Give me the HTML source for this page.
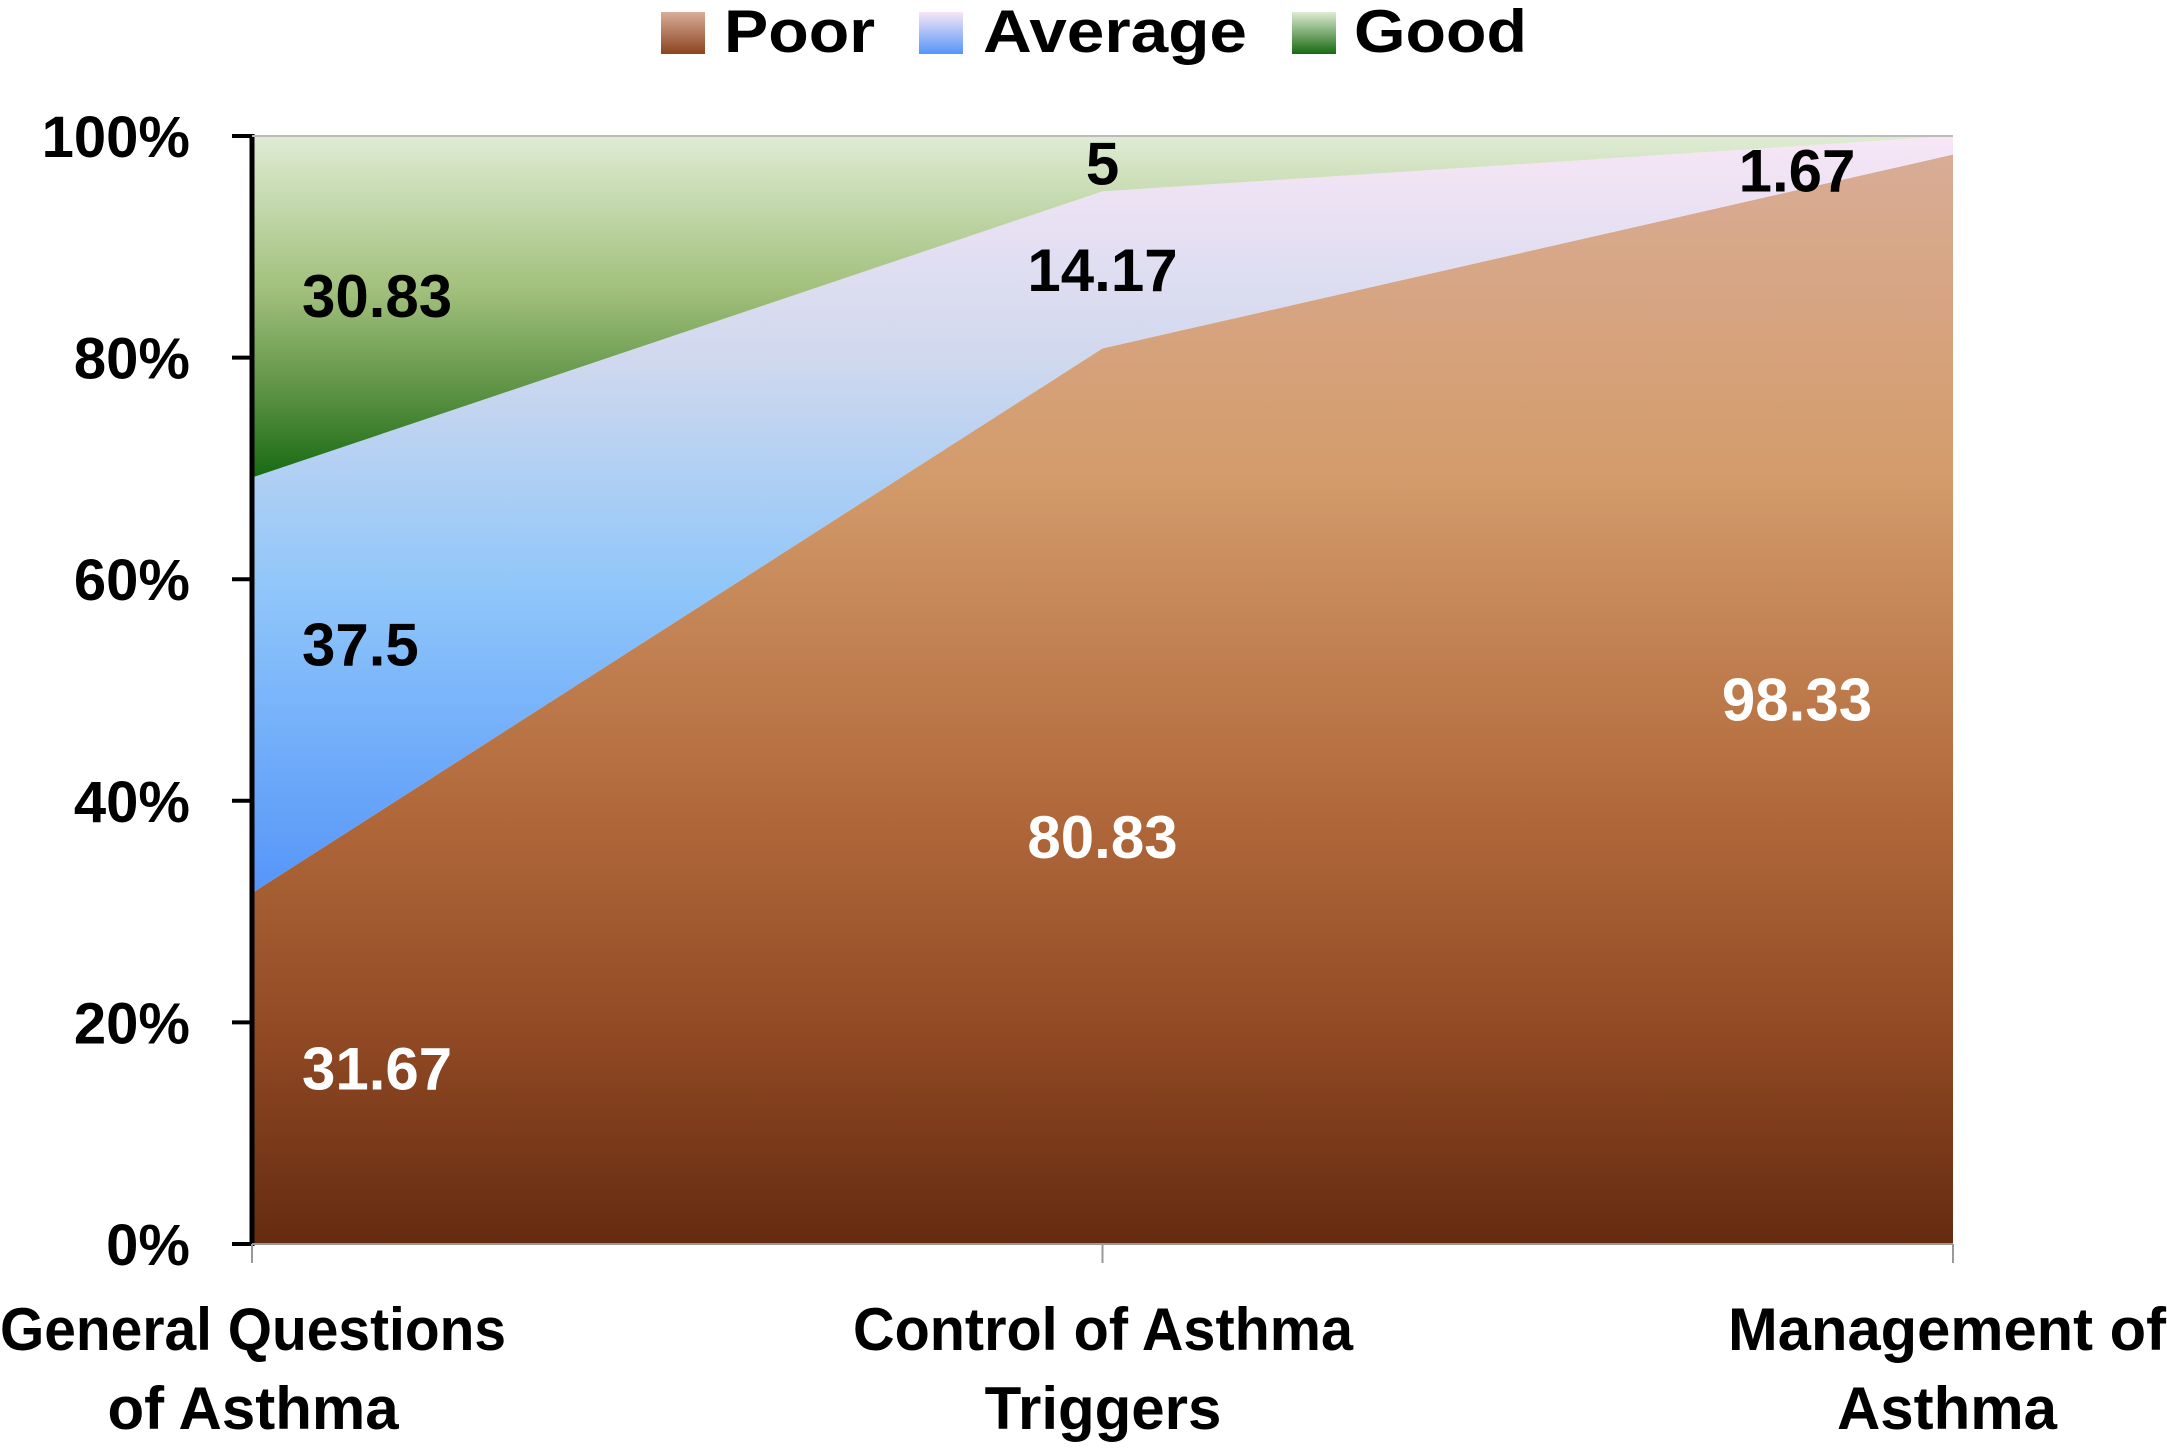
<!DOCTYPE html>
<html><head><meta charset="utf-8"><style>
body{margin:0;background:#fff}
svg text{font-family:"Liberation Sans",sans-serif;font-weight:bold}
</style></head><body>
<svg id="chart" width="2167" height="1443" viewBox="0 0 2167 1443" xmlns="http://www.w3.org/2000/svg">
<defs>
<linearGradient id="gPoor" gradientUnits="userSpaceOnUse" x1="0" y1="136" x2="0" y2="1244">
<stop offset="0" stop-color="#d9ad98"/><stop offset="0.3" stop-color="#d49c6c"/><stop offset="0.6" stop-color="#b26a3c"/><stop offset="0.8" stop-color="#934b25"/><stop offset="1" stop-color="#652b10"/></linearGradient>
<linearGradient id="gAvg" gradientUnits="userSpaceOnUse" x1="0" y1="136" x2="0" y2="895">
<stop offset="0" stop-color="#f7e6f6"/><stop offset="0.3" stop-color="#cfd8ee"/><stop offset="0.6" stop-color="#8fc6fa"/><stop offset="1" stop-color="#5595f9"/></linearGradient>
<linearGradient id="gGood" gradientUnits="userSpaceOnUse" x1="0" y1="136" x2="0" y2="478">
<stop offset="0" stop-color="#dfecd4"/><stop offset="0.45" stop-color="#a2c07c"/><stop offset="0.75" stop-color="#5c9244"/><stop offset="1" stop-color="#176a12"/></linearGradient>
<linearGradient id="lPoor" x1="0" y1="0" x2="0" y2="1"><stop offset="0" stop-color="#d9ad98"/><stop offset="1" stop-color="#8a4420"/></linearGradient>
<linearGradient id="lAvg" x1="0" y1="0" x2="0" y2="1"><stop offset="0" stop-color="#f7e6f6"/><stop offset="1" stop-color="#5595f9"/></linearGradient>
<linearGradient id="lGood" x1="0" y1="0" x2="0" y2="1"><stop offset="0" stop-color="#dfecd4"/><stop offset="1" stop-color="#176a12"/></linearGradient>
</defs>
<g id="legend">
<rect x="661" y="12" width="44" height="42" fill="url(#lPoor)"/>
<text x="724" y="52" font-size="60" textLength="151" lengthAdjust="spacingAndGlyphs">Poor</text>
<rect x="919" y="12" width="44" height="42" fill="url(#lAvg)"/>
<text x="983" y="52" font-size="60" textLength="264" lengthAdjust="spacingAndGlyphs">Average</text>
<rect x="1292" y="12" width="44" height="42" fill="url(#lGood)"/>
<text x="1354" y="52" font-size="60" textLength="173" lengthAdjust="spacingAndGlyphs">Good</text>
</g>
<g id="areas"></g>
<g id="axes"></g>
<g id="labels"></g>
</svg>
<script>
const categories = ["General Questions|of Asthma", "Control of Asthma|Triggers", "Management of|Asthma"];
const poor = [31.67, 80.83, 98.33];
const average = [37.5, 14.17, 1.67];
const good = [30.83, 5, 0];
const yTicks = [0, 20, 40, 60, 80, 100];

const NS = "http://www.w3.org/2000/svg";
const X0 = 252, X1 = 1953, Y0 = 1244, Y1 = 136;
const xS = i => X0 + (X1 - X0) * i / (categories.length - 1);
const yS = v => Y0 - (Y0 - Y1) * v / 100;
function mk(tag, attrs, parent){const e=document.createElementNS(NS,tag);for(const k in attrs)e.setAttribute(k,attrs[k]);parent.appendChild(e);return e;}
const areas = document.getElementById('areas'), axes = document.getElementById('axes'), labels = document.getElementById('labels');

const series = [
 {vals: poor, fill: "url(#gPoor)", name: "area-poor"},
 {vals: average, fill: "url(#gAvg)", name: "area-average"},
 {vals: good, fill: "url(#gGood)", name: "area-good"}
];
let base = categories.map(() => 0);
const bands = [];
series.forEach(s => {
  const top = base.map((b, i) => b + s.vals[i]);
  let d = "";
  top.forEach((t, i) => d += (i ? "L" : "M") + xS(i) + "," + yS(t));
  for (let i = base.length - 1; i >= 0; i--) d += "L" + xS(i) + "," + yS(base[i]);
  const p = mk('path', {d: d + "Z", fill: s.fill}, areas);
  
  
  bands.push({lo: base.slice(), hi: top});
  base = top;
});

const yl = mk('line', {x1: X0, y1: Y1 - 2, x2: X0, y2: Y0 + 2, stroke: "#000", "stroke-width": 5}, axes);


const xl = mk('line', {x1: X0, y1: Y0, x2: X1, y2: Y0, stroke: "#999", "stroke-width": 2}, axes);


const tl = mk('line', {x1: X0, y1: Y1, x2: X1, y2: Y1, stroke: "#bbb", "stroke-width": 2}, axes);


yTicks.forEach(t => {
  const tk = mk('line', {x1: 232, y1: yS(t), x2: X0, y2: yS(t), stroke: "#000", "stroke-width": 4}, axes);
  
  
  const tx = mk('text', {x: 190, y: yS(t) + 21, "font-size": 58, "text-anchor": "end"}, axes);
  tx.textContent = t + "%";
  
  
});
const catW = [506, 500, 438];
categories.forEach((c, i) => {
  const tk = mk('line', {x1: xS(i), y1: Y0, x2: xS(i), y2: Y0 + 19, stroke: "#999", "stroke-width": 2}, axes);
  
  
  const lines = c.split("|");
  const cx = i === 0 ? 253 : (i === 1 ? 1103 : 1947);
  lines.forEach((ln, j) => {
    const a = {x: cx, y: 1350 + j * 79, "font-size": 60, "text-anchor": "middle"};
    if (j === 0) { a.textLength = catW[i]; a.lengthAdjust = "spacingAndGlyphs"; }
    const tx = mk('text', a, axes);
    tx.textContent = ln;
    
    
  });
});

// data labels (label placement nudges, not data)
const lblNames = ["label-poor", "label-average", "label-good"];
const nudgeY = [[0, 41, 0], [-41, 0, 25], [-11, 0, 0]];
series.forEach((s, si) => {
  s.vals.forEach((v, i) => {
    if (!v) return;
    const mid = (bands[si].lo[i] + bands[si].hi[i]) / 2;
    const a = {y: yS(mid) + 21 + nudgeY[si][i], "font-size": 60, fill: si === 0 ? "#fff" : "#000"};
    if (i === 0) { a.x = 302; a["text-anchor"] = "start"; }
    else if (i === 1) { a.x = xS(i); a["text-anchor"] = "middle"; }
    else { a.x = xS(i) - 156; a["text-anchor"] = "middle"; }
    const tx = mk('text', a, labels);
    tx.textContent = String(v);
    
    
  });
});
</script>
</body></html>
